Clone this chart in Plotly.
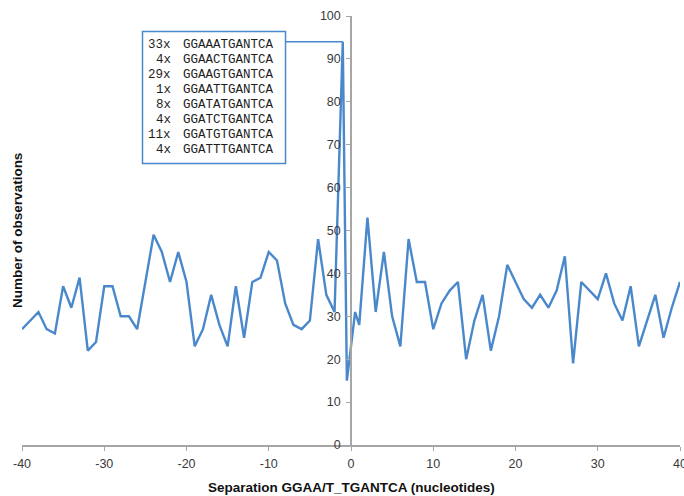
import plotly.graph_objects as go

# Separation (nucleotides) and number of observed sites
separation = [
    -40, -39, -38, -37, -36, -35, -34, -33, -32, -31,
    -30, -29, -28, -27, -26, -25, -24, -23, -22, -21,
    -20, -19, -18, -17, -16, -15, -14, -13, -12, -11,
    -10, -9, -8, -7, -6, -5, -4, -3, -2, -1,
    -0.5, 0.5, 1, 2, 3, 4, 5, 6, 7, 8, 9,
    10, 11, 12, 13, 14, 15, 16, 17, 18, 19,
    20, 21, 22, 23, 24, 25, 26, 27, 28, 29,
    30, 31, 32, 33, 34, 35, 36, 37, 38, 39, 40,
]
observations = [
    27, 29, 31, 27, 26, 37, 32, 39, 22, 24,
    37, 37, 30, 30, 27, 38, 49, 45, 38, 45,
    38, 23, 27, 35, 28, 23, 37, 25, 38, 39,
    45, 43, 33, 28, 27, 29, 48, 35, 31, 94,
    15, 31, 28, 53, 31, 45, 30, 23, 48, 38, 38,
    27, 33, 36, 38, 20, 29, 35, 22, 30, 42,
    38, 34, 32, 35, 32, 36, 44, 19, 38, 36,
    34, 40, 33, 29, 37, 23, 29, 35, 25, 32, 38,
]

# Composite site variants counted at the peak
site_counts = ["33x", "4x", "29x", "1x", "8x", "4x", "11x", "4x"]
site_sequences = [
    "GGAAATGANTCA", "GGAACTGANTCA", "GGAAGTGANTCA", "GGAATTGANTCA",
    "GGATATGANTCA", "GGATCTGANTCA", "GGATGTGANTCA", "GGATTTGANTCA",
]

x_ticks = [-40, -30, -20, -10, 0, 10, 20, 30, 40]
x_tick_text = ["-40", "-30", "-20", "-10", "0", "10", "20", "30", "40"]
y_ticks = [0, 10, 20, 30, 40, 50, 60, 70, 80, 90, 100]

LINE_BLUE = "#4a88cc"
AXIS_GREY = "#a6a6a6"
LABEL_COLOR = "#3a3a3a"

fig = go.Figure()
fig.add_trace(go.Scatter(
    x=separation, y=observations, mode="lines",
    line=dict(color=LINE_BLUE, width=2.4),
    hoverinfo="x+y", showlegend=False,
))

# Callout box listing the peak variants
peak_idx = observations.index(max(observations))
peak_x, peak_y = separation[peak_idx], observations[peak_idx]
box_x0, box_x1 = -25.35, -7.96
box_y0, box_y1 = 65.6, 96.4
fig.add_shape(type="rect", xref="x", yref="y",
              x0=box_x0, x1=box_x1, y0=box_y0, y1=box_y1,
              line=dict(color=LINE_BLUE, width=1.5), fillcolor="white", layer="above")
fig.add_shape(type="line", xref="x", yref="y",
              x0=box_x1, x1=peak_x, y0=peak_y, y1=peak_y,
              line=dict(color=LINE_BLUE, width=1.5), layer="above")

mono = dict(family="Liberation Mono, Courier New, monospace", size=12.5, color="#1e1e1e")
row_top, row_step = 93.3, 3.5
for k, (cnt, seq) in enumerate(zip(site_counts, site_sequences)):
    yk = row_top - row_step * k
    fig.add_annotation(x=-21.64, y=yk, xref="x", yref="y", text=cnt,
                       showarrow=False, xanchor="right", yanchor="middle", font=mono)
    fig.add_annotation(x=-20.73, y=yk, xref="x", yref="y", text=seq,
                       showarrow=False, xanchor="left", yanchor="middle", font=mono)

# Axis titles
title_font = dict(family="Liberation Sans, Arial, sans-serif", size=13.5, color="#111111")
fig.add_annotation(text="<b>Number of observations</b>", xref="paper", yref="paper",
                   x=-0.007, y=0.5, xanchor="center", yanchor="middle",
                   textangle=-90, showarrow=False, font=title_font)
fig.add_annotation(text="<b>Separation GGAA/T_TGANTCA (nucleotides)</b>",
                   xref="paper", yref="paper", x=0.5, y=-0.098,
                   xanchor="center", yanchor="middle", showarrow=False, font=title_font)

tick_font = dict(family="Liberation Sans, Arial, sans-serif", size=12.5, color=LABEL_COLOR)
fig.update_layout(
    width=684, height=496,
    margin=dict(l=22, r=4, t=16, b=51, autoexpand=False),
    paper_bgcolor="white", plot_bgcolor="white",
    xaxis=dict(range=[-40, 40], tickvals=x_ticks, ticktext=x_tick_text,
               showgrid=False, zeroline=False, automargin=False,
               showline=True, linecolor=AXIS_GREY, linewidth=1.5,
               ticks="outside", ticklen=4, tickcolor=AXIS_GREY,
               ticklabeloverflow="allow", ticklabelstandoff=2,
               tickfont=tick_font, fixedrange=True),
    yaxis=dict(range=[0, 100], tickvals=y_ticks, showgrid=False, zeroline=False,
               automargin=False,
               showline=True, linecolor=AXIS_GREY, linewidth=1.5,
               anchor="free", position=0.5, side="left",
               ticks="outside", ticklen=4, tickcolor=AXIS_GREY,
               ticklabeloverflow="allow", ticklabelstandoff=3,
               tickfont=tick_font, fixedrange=True),
)

fig.write_html("out.html")
